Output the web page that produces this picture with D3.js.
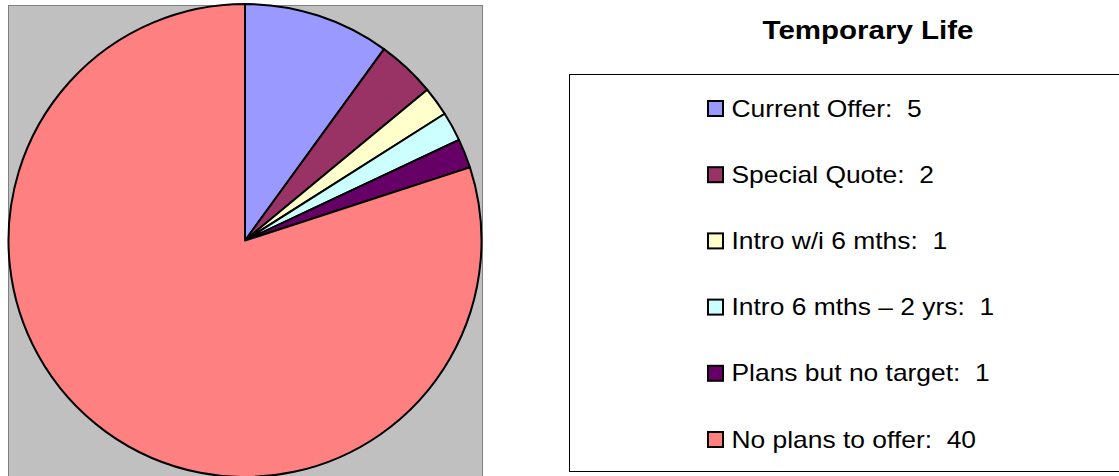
<!DOCTYPE html>
<html>
<head>
<meta charset="utf-8">
<script src="https://cdn.jsdelivr.net/npm/d3@7"></script>
<style>
  body { margin: 0; background: #fff; }
  svg { display: block; font-family: "Liberation Sans", Arial, sans-serif; }
</style>
</head>
<body>
<div id="chart"></div>
<script>
const categories = ['Current Offer', 'Special Quote', 'Intro w/i 6 mths', 'Intro 6 mths \u2013 2 yrs', 'Plans but no target', 'No plans to offer'];
const values = [5, 2, 1, 1, 1, 40];
const colors = ['#9999ff', '#993366', '#ffffcc', '#ccffff', '#660066', '#ff8080'];
const title = 'Temporary Life';

const width = 1119, height = 476;
const svg = d3.select('#chart').append('svg')
    .attr('width', width)
    .attr('height', height);

// plot area
svg.append('rect')
    .attr('x', 8.5).attr('y', 5.5)
    .attr('width', 474).attr('height', 480)
    .attr('fill', '#c0c0c0')
    .attr('stroke', '#808080')
    .attr('stroke-width', 1);

const data = categories.map((c, i) => ({ name: c, value: values[i], color: colors[i] }));

const pie = d3.pie().sort(null).value(d => d.value);
const arc = d3.arc().innerRadius(0).outerRadius(236.5);

const g = svg.append('g').attr('transform', 'translate(245, 240.5)');
g.selectAll('path')
    .data(pie(data))
    .enter()
    .append('path')
    .attr('d', arc)
    .attr('fill', d => d.data.color)
    .attr('stroke', '#000')
    .attr('stroke-width', 2)
    .attr('stroke-linejoin', 'round');

// title (text is a bit wider than the font, stretch it)
svg.append('text')
    .attr('transform', 'translate(868, 39) scale(1.18, 1)')
    .attr('text-anchor', 'middle')
    .attr('font-size', 25)
    .attr('font-weight', 'bold')
    .text(title);

// legend
svg.append('rect')
    .attr('x', 569.5).attr('y', 74.5)
    .attr('width', 600).attr('height', 397)
    .attr('fill', '#fff')
    .attr('stroke', '#000')
    .attr('stroke-width', 1);

const y = d3.scalePoint().domain(categories).range([108.5, 439.5]);
const item = svg.selectAll('.item')
    .data(data)
    .enter()
    .append('g')
    .attr('class', 'item')
    .attr('transform', d => `translate(707, ${y(d.name)})`);

item.append('rect')
    .attr('x', 1).attr('y', -7.5)
    .attr('width', 15).attr('height', 15)
    .attr('fill', d => d.color)
    .attr('stroke', '#000')
    .attr('stroke-width', 2);

item.append('text')
    .attr('transform', 'translate(24.5, 8) scale(1.148, 1)')
    .attr('font-size', 23)
    .attr('xml:space', 'preserve')
    .style('white-space', 'pre')
    .text(d => `${d.name}:  ${d.value}`);
</script>
</body>
</html>
